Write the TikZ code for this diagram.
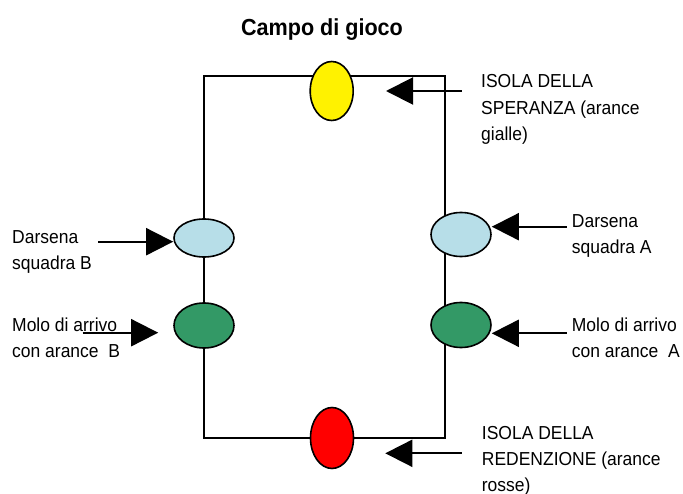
\documentclass[tikz,border=0pt]{standalone}
\usepackage{fontspec}
\setmainfont{Liberation Sans}
\newfontfamily\narrowsans[FakeStretch=0.93]{Liberation Sans}
\usetikzlibrary{arrows.meta,shapes.geometric}
\definecolor{lblue}{HTML}{B7DEE8}
\definecolor{sgreen}{HTML}{339966}
\begin{document}
\begin{tikzpicture}[x=1pt,y=-1pt,
  lbl/.style={anchor=base west, inner sep=0pt, font=\narrowsans\fontsize{18.8}{22}\selectfont},
  isle/.style={ellipse, draw=black, line width=1.6pt, inner sep=0pt},
  vert/.style={isle, minimum width=43pt, minimum height=59pt},
  horz/.style={isle, minimum width=60pt, minimum height=40pt},
  arr/.style={line width=2pt, -{Triangle[length=27pt,width=27pt]}},
  frame/.style={line width=1.8pt}]
\useasboundingbox (0,0) rectangle (683,494);
% field
\coordinate (tl) at (204,76);
\coordinate (br) at (445,438);
\draw[frame] (tl) rectangle (br);
% islands and docks
\node[vert, fill=yellow] (yel) at (331.7,91) {};
\node[vert, fill=red, minimum height=61pt] (red) at (332,438) {};
\node[horz, fill=lblue, minimum height=38pt] (lb) at (204,238) {};
\node[horz, fill=sgreen, minimum height=45pt] (lg) at (204,325.5) {};
\node[horz, fill=lblue, minimum height=44pt] (rb) at (461,234.5) {};
\node[horz, fill=sgreen, minimum height=45pt] (rg) at (461,325) {};
% title
\node[anchor=base, inner sep=0pt, font=\narrowsans\fontsize{23.2}{26}\selectfont\bfseries] (title) at (322,36) {Campo di gioco};
% labels
\node[lbl] (s1) at (481,88) {ISOLA DELLA};
\node[lbl] (s2) at (481,115) {SPERANZA (arance};
\node[lbl] (s3) at (481,141) {gialle)};
\node[lbl] (ra1) at (571.7,228) {Darsena};
\node[lbl] (ra2) at (571.7,254) {squadra A};
\node[lbl] (ma1) at (571.7,331.7) {Molo di arrivo};
\node[lbl] (ma2) at (571.7,358) {con arance\ \ A};
\node[lbl] (lb1) at (12,243.3) {Darsena};
\node[lbl] (lb2) at (12,270) {squadra B};
\node[lbl] (mb1) at (12,331.7) {Molo di arrivo};
\node[lbl] (mb2) at (12,358) {con arance\ \ B};
\node[lbl] (r1) at (481.7,439) {ISOLA DELLA};
\node[lbl] (r2) at (481.7,465.7) {REDENZIONE (arance};
\node[lbl] (r3) at (481.7,491) {rosse)};
% arrow tails
\coordinate (ytail) at (461.7,91);
\coordinate (rtail) at (461.7,453.3);
\coordinate (ldtail) at (98,241.7);
\coordinate (lmtail) at (82.7,332.7);
\coordinate (rdtail) at (566.7,226.7);
\coordinate (rmtail) at (566.7,333.3);
% arrows
\draw[arr, shorten >=32pt] (ytail) -- (yel.east |- ytail);
\draw[arr, shorten >=31pt] (rtail) -- (red.east |- rtail);
\draw[arr] (ldtail) -- (lb.west |- ldtail);
\draw[arr, shorten >=15pt] (lmtail) -- (lg.west |- lmtail);
\draw[arr] (rdtail) -- (rb.east |- rdtail);
\draw[arr] (rmtail) -- (rg.east |- rmtail);
\end{tikzpicture}
\end{document}
